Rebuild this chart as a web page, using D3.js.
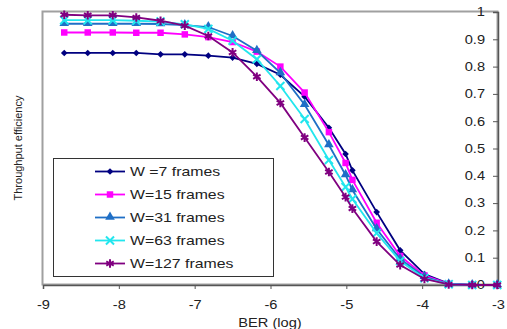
<!DOCTYPE html>
<html>
<head>
<meta charset="utf-8">
<script src="https://cdn.jsdelivr.net/npm/d3@7"></script>
<style>
  body { margin: 0; background: #fff; }
  text { font-family: "Liberation Sans", Arial, sans-serif; fill: #222; }
</style>
</head>
<body>
<div id="chart"></div>
<script>
// BER (log10) at each measured point
const berLog = [-8.72, -8.41, -8.08, -7.77, -7.45, -7.13, -6.82, -6.50, -6.18, -5.87,
                -5.55, -5.23, -5.01, -4.92, -4.60, -4.29, -3.97, -3.65, -3.34, -3.01];

const w7   = [0.85, 0.85, 0.85, 0.85, 0.845, 0.845, 0.84, 0.833, 0.81, 0.77, 0.69, 0.576, 0.48, 0.42, 0.267, 0.127, 0.04, 0.005, 0, 0];
const w15  = [0.925, 0.925, 0.925, 0.924, 0.924, 0.918, 0.908, 0.89, 0.855, 0.80, 0.705, 0.56, 0.447, 0.385, 0.228, 0.106, 0.035, 0.004, 0, 0];
const w31  = [0.957, 0.957, 0.957, 0.957, 0.956, 0.952, 0.945, 0.912, 0.858, 0.777, 0.66, 0.513, 0.403, 0.348, 0.205, 0.095, 0.03, 0.003, 0, 0];
const w63  = [0.97, 0.97, 0.97, 0.968, 0.965, 0.955, 0.938, 0.895, 0.827, 0.729, 0.608, 0.458, 0.359, 0.315, 0.19, 0.088, 0.025, 0.003, 0, 0];
const w127 = [0.99, 0.988, 0.988, 0.98, 0.968, 0.95, 0.912, 0.852, 0.763, 0.667, 0.54, 0.414, 0.322, 0.28, 0.159, 0.073, 0.022, 0.002, 0, 0];

const seriesNames = ["W =7 frames", "W=15 frames", "W=31 frames", "W=63 frames", "W=127 frames"];
const xTicks = [-9, -8, -7, -6, -5, -4, -3];
const yTicks = [0, 0.1, 0.2, 0.3, 0.4, 0.5, 0.6, 0.7, 0.8, 0.9, 1];

const width = 507, height = 329;
const margin = { left: 43, right: 498, top: 12, bottom: 285 };
const stretch = 1.22;

const series = [
  { name: seriesNames[0], values: w7,   color: "#000080", marker: "diamond" },
  { name: seriesNames[1], values: w15,  color: "#ff00ff", marker: "square" },
  { name: seriesNames[2], values: w31,  color: "#1f6fc6", marker: "triangle" },
  { name: seriesNames[3], values: w63,  color: "#22e6ee", marker: "x" },
  { name: seriesNames[4], values: w127, color: "#800080", marker: "star" }
];

const svg = d3.select("#chart").append("svg")
  .attr("width", width)
  .attr("height", height);

const x = d3.scaleLinear().domain([-9, -3]).range([margin.left, margin.right]);
const y = d3.scaleLinear().domain([0, 1]).range([margin.bottom, margin.top]);

// plot frame
svg.append("rect")
  .attr("x", x(-9) - 0.5).attr("y", y(1) - 0.5)
  .attr("width", x(-3) - x(-9)).attr("height", y(0) - y(1))
  .attr("fill", "none")
  .attr("stroke", "#a0a0a0")
  .attr("stroke-width", 2);

// x axis
const xAxis = svg.append("g")
  .attr("transform", "translate(0," + y(0) + ")")
  .call(d3.axisBottom(x).tickValues(xTicks).tickSize(4).tickPadding(11).tickFormat(d3.format("d")));
xAxis.select(".domain").attr("stroke", "#555").attr("stroke-width", 1.5);
xAxis.selectAll(".tick line").attr("stroke", "#555");
xAxis.selectAll(".tick text")
  .attr("font-size", 12)
  .attr("font-family", "Liberation Sans, Arial, sans-serif")
  .attr("fill", "#222")
  .text(d => d < 0 ? "-" + Math.abs(d) : d)
  .attr("transform", "scale(" + stretch + ",1)");

// y axis on the right, labels inside
const yAxis = svg.append("g")
  .attr("transform", "translate(" + x(-3) + ",0)")
  .call(d3.axisLeft(y).tickValues(yTicks).tickSize(5).tickPadding(8).tickFormat(d3.format("~g")));
yAxis.select(".domain").attr("stroke", "#555").attr("stroke-width", 1.5);
yAxis.selectAll(".tick line").attr("stroke", "#555");
yAxis.selectAll(".tick text")
  .attr("font-size", 12)
  .attr("font-family", "Liberation Sans, Arial, sans-serif")
  .attr("fill", "#222")
  .attr("x", -13 / stretch)
  .attr("transform", "scale(" + stretch + ",1)");

// axis titles
svg.append("text")
  .attr("transform", "translate(270,327) scale(" + stretch + ",1)")
  .attr("text-anchor", "middle")
  .attr("font-size", 12)
  .text("BER (log)");

svg.append("text")
  .attr("transform", "translate(22,148) rotate(-90)")
  .attr("text-anchor", "middle")
  .attr("font-size", 11)
  .text("Throughput efficiency");

function drawMarker(g, kind, color) {
  if (kind === "diamond") {
    g.append("path").attr("d", d3.symbol(d3.symbolSquare, 22)())
      .attr("transform", "rotate(45)").attr("fill", color);
  } else if (kind === "square") {
    g.append("path").attr("d", d3.symbol(d3.symbolSquare, 42)()).attr("fill", color);
  } else if (kind === "triangle") {
    g.append("path").attr("d", d3.symbol(d3.symbolTriangle, 40)())
      .attr("transform", "translate(0,-0.5)").attr("fill", color);
  } else if (kind === "x") {
    g.append("path").attr("d", d3.symbol(d3.symbolX, 44)())
      .attr("fill", "none").attr("stroke", color).attr("stroke-width", 2);
  } else {
    g.append("path").attr("d", d3.symbol(d3.symbolAsterisk, 52)())
      .attr("fill", "none").attr("stroke", color).attr("stroke-width", 2);
  }
}

const line = d3.line()
  .x(d => x(d[0]))
  .y(d => y(d[1]));

series.forEach(s => {
  const pts = berLog.map((b, i) => [b, s.values[i]]);
  svg.append("path")
    .datum(pts)
    .attr("fill", "none")
    .attr("stroke", s.color)
    .attr("stroke-width", 1.8)
    .attr("d", line);
  pts.forEach(p => {
    const g = svg.append("g").attr("transform", "translate(" + x(p[0]) + "," + y(p[1]) + ")");
    drawMarker(g, s.marker, s.color);
  });
});

// legend
const legend = svg.append("g");
legend.append("rect")
  .attr("x", 53.5).attr("y", 158.5)
  .attr("width", 220).attr("height", 118)
  .attr("fill", "#fff")
  .attr("stroke", "#333")
  .attr("stroke-width", 1);

series.forEach((s, i) => {
  const ly = 171.5 + i * 23;
  const row = legend.append("g").attr("transform", "translate(0," + ly + ")");
  row.append("line")
    .attr("x1", 95).attr("x2", 125)
    .attr("stroke", s.color).attr("stroke-width", 1.8);
  drawMarker(row.append("g").attr("transform", "translate(110,0)"), s.marker, s.color);
  row.append("text")
    .attr("transform", "translate(130,4.5) scale(1.32,1)")
    .attr("font-size", 12)
    .text(s.name);
});
</script>
</body>
</html>
